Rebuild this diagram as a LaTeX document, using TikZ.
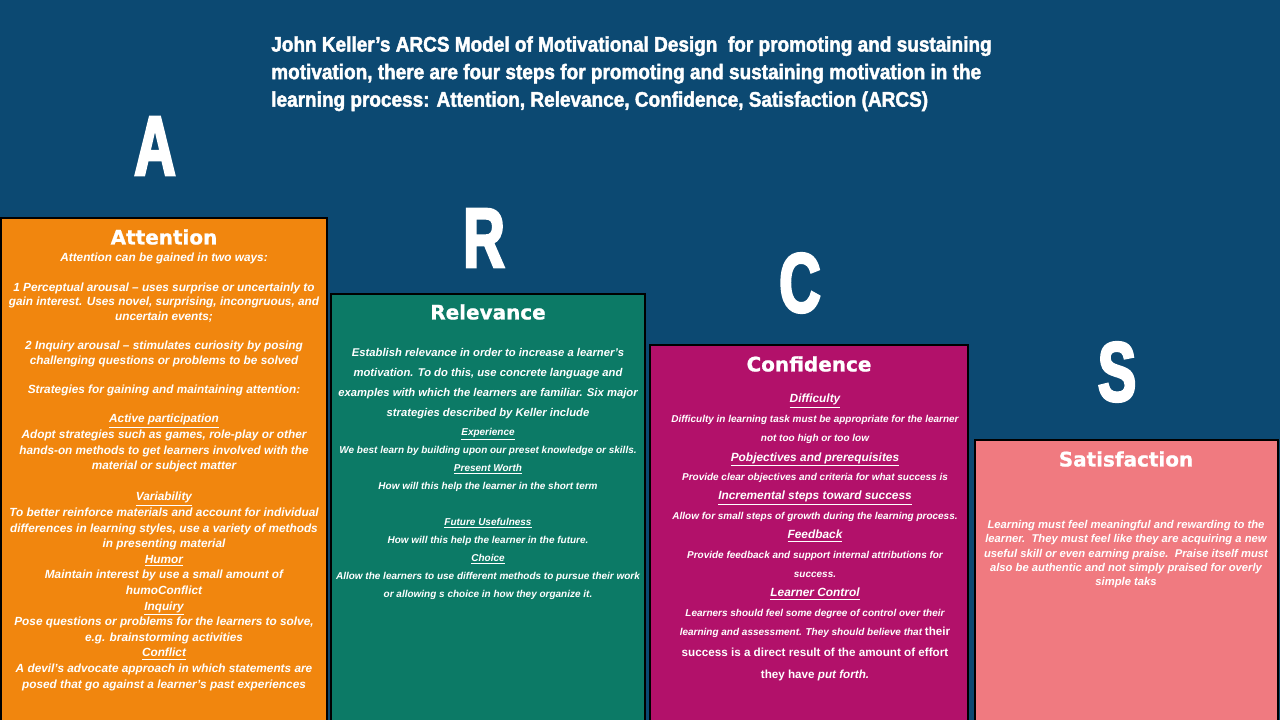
\documentclass[tikz,border=0pt]{standalone}
\usepackage{fontspec}
\setmainfont{Liberation Sans}
\newfontfamily\headfont{DejaVu Sans}[FakeBold=1]
\newfontfamily\condfont{Liberation Sans}[FakeStretch=0.9, FakeBold=2]
\newfontfamily\letterfont{Liberation Sans}[FakeStretch=0.68, FakeBold=3]
\definecolor{bgcol}{RGB}{12,73,114}
\definecolor{attcol}{RGB}{241,134,14}
\definecolor{relcol}{RGB}{12,122,102}
\definecolor{concol}{RGB}{178,17,106}
\definecolor{satcol}{RGB}{240,122,128}
\newcommand{\txtsize}[2]{\fontsize{#1}{#2}\selectfont\bfseries\itshape}
\newcommand{\cfsub}{\fontsize{8.45}{13.8}\selectfont}
\newcommand{\cfbold}{\fontsize{8.3}{13.8}\selectfont\upshape}

\begin{document}
\begin{tikzpicture}[x=0.025cm, y=-0.025cm,
		panel/.style={draw=black, line width=1.3pt},
		bigletter/.style={text=white, inner sep=0pt, font=\letterfont\bfseries\fontsize{60}{60}\selectfont},
		heading/.style={text=white, inner sep=0pt, font=\headfont\bfseries\fontsize{14.2}{16}\selectfont},
		body/.style={text=white, inner sep=0pt, anchor=north, align=center},
	]

	% --- Sfondo ---
	\useasboundingbox (0,0) rectangle (1280,720);
	\clip (0,0) rectangle (1280,720);
	\fill [bgcol] (0,0) rectangle (1280,720);

	% --- Titolo ---
	\node (title) [text=white, inner sep=0pt, anchor=north west, align=left,
		font=\condfont\bfseries\fontsize{15}{19.6}\selectfont] at (271,36)
		{John Keller’s ARCS Model of Motivational Design\ \ for promoting and sustaining\\
		motivation, there are four steps for promoting and sustaining motivation in the\\
		learning process: Attention, Relevance, Confidence, Satisfaction (ARCS)};

	% --- Le quattro colonne, a gradini ---
	\draw [panel, fill=attcol] (1,218) rectangle (327,730);
	\draw [panel, fill=relcol] (331,294) rectangle (645,730);
	\draw [panel, fill=concol] (650,345) rectangle (968,730);
	\draw [panel, fill=satcol] (975,440) rectangle (1278,730);

	% --- Lettere ---
	\node (letA) [bigletter] at (155,146) {A};
	\node (letR) [bigletter] at (484,238) {R};
	\node (letC) [bigletter] at (800,283) {C};
	\node (letS) [bigletter] at (1117,372) {S};

	% --- Attention ---
	\node (attHead) [heading] at (164,237) {Attention};
	\node (attBody) [body, font=\txtsize{8.4}{10.4}] at (164,253)
		{Attention can be gained in two ways:\\[10.4pt]
		1 Perceptual arousal – uses surprise or uncertainly to\\
		gain interest. Uses novel, surprising, incongruous, and\\
		uncertain events;\\[10.4pt]
		2 Inquiry arousal – stimulates curiosity by posing\\
		challenging questions or problems to be solved\\[10.4pt]
		Strategies for gaining and maintaining attention:};
	\node (attStrat) [body, font=\txtsize{8.4}{11.1}] at (164,414)
		{\underline{Active participation}\\
		Adopt strategies such as games, role-play or other\\
		hands-on methods to get learners involved with the\\
		material or subject matter\\[11.1pt]
		\underline{Variability}\\
		To better reinforce materials and account for individual\\
		differences in learning styles, use a variety of methods\\
		in presenting material\\
		\underline{Humor}\\
		Maintain interest by use a small amount of\\
		humoConflict\\
		\underline{Inquiry}\\
		Pose questions or problems for the learners to solve,\\
		e.g. brainstorming activities\\
		\underline{Conflict}\\
		A devil’s advocate approach in which statements are\\
		posed that go against a learner’s past experiences};

	% --- Relevance ---
	\node (relHead) [heading] at (488,312) {Relevance};
	\node (relIntro) [body, font=\txtsize{8}{14.2}] at (488,348)
		{Establish relevance in order to increase a learner’s\\
		motivation. To do this, use concrete language and\\
		examples with which the learners are familiar. Six major\\
		strategies described by Keller include};
	\node (relItems) [body, font=\txtsize{7.1}{12.8}] at (488,427.5)
		{\underline{Experience}\\
		We best learn by building upon our preset knowledge or skills.\\
		\underline{Present Worth}\\
		How will this help the learner in the short term\\[12.8pt]
		\underline{Future Usefulness}\\
		How will this help the learner in the future.\\
		\underline{Choice}\\
		Allow the learners to use different methods to pursue their work\\
		or allowing s choice in how they organize it.};

	% --- Confidence ---
	\node (conHead) [heading] at (809,364) {Confidence};
	\node (conBody) [body, font=\txtsize{7.1}{13.8}] at (815,394)
		{{\cfsub\underline{Difficulty}}\\
		Difficulty in learning task must be appropriate for the learner\\
		not too high or too low\\
		{\cfsub\underline{Pobjectives and prerequisites}}\\
		Provide clear objectives and criteria for what success is\\
		{\cfsub\underline{Incremental steps toward success}}\\
		Allow for small steps of growth during the learning process.\\
		{\cfsub\underline{Feedback}}\\
		Provide feedback and support internal attributions for\\
		success.\\
		{\cfsub\underline{Learner Control}}\\
		Learners should feel some degree of control over their\\
		learning and assessment. They should believe that {\cfbold their}\\[1pt]
		{\cfbold success is a direct result of the amount of effort}\\[1.5pt]
		{\cfbold they have {\itshape put forth.}}};

	% --- Satisfaction ---
	\node (satHead) [heading] at (1126,459) {Satisfaction};
	\node (satBody) [body, font=\txtsize{8}{10}] at (1126,520.5)
		{Learning must feel meaningful and rewarding to the\\
		learner.\ \ They must feel like they are acquiring a new\\
		useful skill or even earning praise.\ \ Praise itself must\\
		also be authentic and not simply praised for overly\\
		simple taks};

\end{tikzpicture}
\end{document}
